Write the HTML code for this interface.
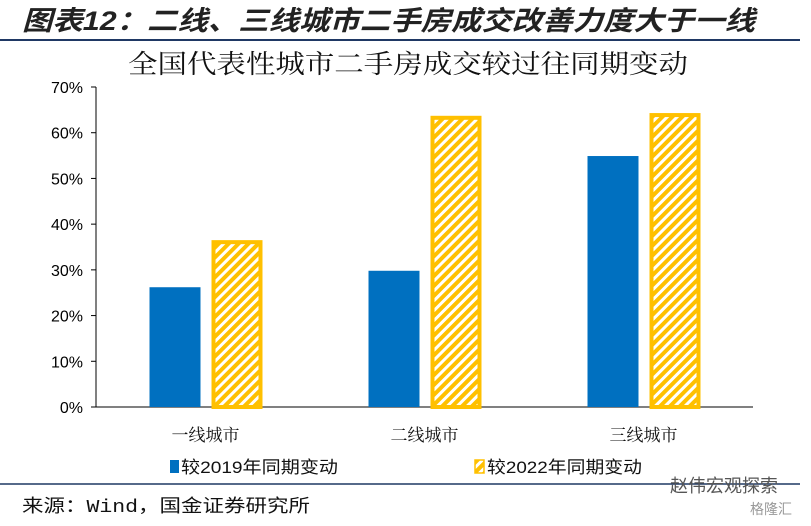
<!DOCTYPE html>
<html><head><meta charset="utf-8"><style>
body{margin:0;background:#fff;width:811px;height:521px;overflow:hidden;font-family:"Liberation Sans","Noto Sans CJK SC",sans-serif}
</style></head><body>
<svg width="811" height="521" xmlns="http://www.w3.org/2000/svg">
<defs>
<pattern id="hatch" patternUnits="userSpaceOnUse" width="7" height="7" patternTransform="rotate(45)">
<rect width="7" height="7" fill="#ffc000"/><rect width="3" height="7" fill="#fff"/>
</pattern>
</defs>
<text x="22" y="30" font-size="27" textLength="733" lengthAdjust="spacingAndGlyphs" font-style="italic" font-weight="bold" fill="#222" font-family="Liberation Sans,Noto Sans CJK SC,sans-serif">图表12：二线、三线城市二手房成交改善力度大于一线</text>
<line x1="0" y1="40" x2="800" y2="40" stroke="#1f3864" stroke-width="2"/>
<text x="128" y="73" font-size="26" textLength="560" lengthAdjust="spacingAndGlyphs" fill="#111" font-family="Noto Serif CJK SC,serif">全国代表性城市二手房成交较过往同期变动</text>
<g id="axes"></g><g id="bars"></g>
<line x1="0" y1="484" x2="800" y2="484" stroke="#1f3864" stroke-width="1.5"/>
<rect x="170" y="460" width="9" height="13" fill="#0070c0"/>
<text x="181" y="473" font-size="17" textLength="157" lengthAdjust="spacingAndGlyphs" fill="#111">较2019年同期变动</text>
<rect x="475" y="460" width="9" height="13" fill="url(#hatch)" stroke="#ffc000" stroke-width="1.5"/>
<text x="487" y="473" font-size="17" textLength="155" lengthAdjust="spacingAndGlyphs" fill="#111">较2022年同期变动</text>
<text x="22" y="512" font-size="18" textLength="288" lengthAdjust="spacingAndGlyphs" fill="#111" font-family="Liberation Mono,Noto Sans CJK SC,monospace">来源：Wind，国金证券研究所</text>
<text x="670" y="492" font-size="18" fill="#555">赵伟宏观探索</text>
<text x="750" y="514" font-size="14" fill="#999">格隆汇</text>
</svg>
<script>
const categories=["一线城市","二线城市","三线城市"];
const series2019=[26.2,29.8,54.9];
const series2022=[36.5,63.7,64.3];
const ticks=[0,10,20,30,40,50,60,70];
const NS="http://www.w3.org/2000/svg";
const x0=96,x1=753,y0=407,yTop=87,maxV=70;
const y=v=>y0-(v/maxV)*(y0-yTop);
const band=(x1-x0)/categories.length;
const cx=i=>x0+band*(i+0.5);
function mk(tag,attrs,parent){const e=document.createElementNS(NS,tag);for(const k in attrs)e.setAttribute(k,attrs[k]);parent.appendChild(e);return e;}
const ax=document.getElementById('axes'),bg=document.getElementById('bars');
let l=mk('line',{x1:x0,y1:yTop,x2:x0,y2:y0,stroke:'#000'},ax);


l=mk('line',{x1:x0,y1:y0,x2:x1,y2:y0,stroke:'#000'},ax);


ticks.forEach(t=>{
 const tk=mk('line',{x1:x0-5,y1:y(t),x2:x0,y2:y(t),stroke:'#000'},ax);
 
 
 const tx=mk('text',{x:x0-13,y:y(t)+6,'font-size':16,'text-anchor':'end',fill:'#000'},ax);
 tx.textContent=t+'%';
 
 
});
categories.forEach((c,i)=>{
 const tx=mk('text',{x:cx(i),y:441,'font-size':17,'text-anchor':'middle',fill:'#111','font-family':'Noto Serif CJK SC,serif'},ax);
 tx.textContent=c;
 
 
 const b=mk('rect',{x:cx(i)-56,y:y(series2019[i]),width:51,height:y0-y(series2019[i]),fill:'#0070c0'},bg);
 
 
 const h=mk('rect',{x:cx(i)+8,y:y(series2022[i])+2,width:47,height:y0-y(series2022[i])-2,fill:'url(#hatch)',stroke:'#ffc000','stroke-width':4},bg);
 
 
});
</script>
</body></html>
